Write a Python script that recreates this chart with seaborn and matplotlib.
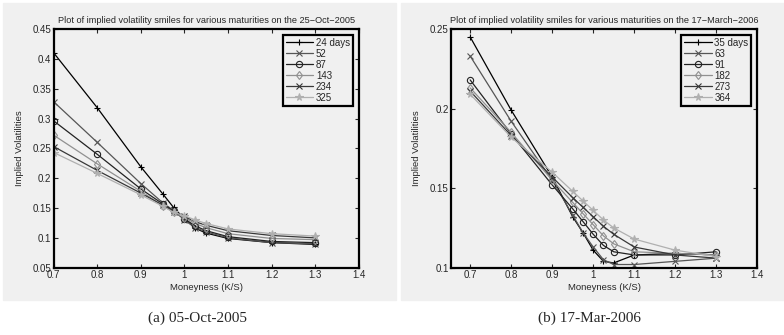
import numpy as np
import pandas as pd
import seaborn as sns
import matplotlib.pyplot as plt
from matplotlib.patches import Rectangle

# moneyness grid (same for both dates)
moneyness = [0.7, 0.8, 0.9, 0.95, 0.975, 1.0, 1.025, 1.05, 1.1, 1.2, 1.3]

# 25-Oct-2005 smiles
labels_a = ['24 days', '52', '87', '143', '234', '325']
vol_24 = [0.410, 0.318, 0.219, 0.174, 0.151, 0.132, 0.116, 0.108, 0.099, 0.092, 0.089]
vol_52 = [0.328, 0.260, 0.191, 0.159, 0.146, 0.130, 0.117, 0.110, 0.100, 0.092, 0.090]
vol_87 = [0.296, 0.240, 0.182, 0.157, 0.145, 0.132, 0.120, 0.112, 0.102, 0.094, 0.092]
vol_143 = [0.272, 0.224, 0.178, 0.154, 0.143, 0.134, 0.124, 0.117, 0.107, 0.099, 0.097]
vol_234 = [0.253, 0.213, 0.175, 0.155, 0.144, 0.136, 0.127, 0.121, 0.112, 0.104, 0.100]
vol_325 = [0.243, 0.208, 0.172, 0.153, 0.143, 0.137, 0.130, 0.124, 0.115, 0.107, 0.103]

# 17-March-2006 smiles
labels_b = ['35 days', '63', '91', '182', '273', '364']
vol_35 = [0.245, 0.199, 0.157, 0.132, 0.122, 0.111, 0.104, 0.103, 0.108, 0.109, 0.108]
vol_63 = [0.233, 0.192, 0.155, 0.133, 0.122, 0.113, 0.105, 0.102, 0.102, 0.104, 0.106]
vol_91 = [0.218, 0.184, 0.152, 0.137, 0.129, 0.121, 0.114, 0.110, 0.108, 0.108, 0.110]
vol_182 = [0.213, 0.185, 0.155, 0.141, 0.134, 0.127, 0.120, 0.115, 0.110, 0.109, 0.108]
vol_273 = [0.211, 0.183, 0.157, 0.144, 0.138, 0.132, 0.126, 0.121, 0.113, 0.108, 0.106]
vol_364 = [0.209, 0.182, 0.160, 0.148, 0.142, 0.136, 0.130, 0.125, 0.118, 0.111, 0.107]

markers = ['+', 'x', 'o', 'd', 'x', '*']
colors = ['#000000', '#555555', '#222222', '#909090', '#383838', '#b0b0b0']

sns.set_style('ticks')
plt.rcParams['font.family'] = ['Liberation Sans', 'DejaVu Sans']

bg = '#f0f0f0'
fig = plt.figure(figsize=(7.84, 3.35), dpi=100)
fig.add_artist(Rectangle((3 / 784, 1 - 300 / 335), 393 / 784, 297 / 335,
                         transform=fig.transFigure, color=bg, zorder=0))
fig.add_artist(Rectangle((401 / 784, 1 - 300 / 335), 383 / 784, 297 / 335,
                         transform=fig.transFigure, color=bg, zorder=0))


def smile_panel(ax, labels, series, title, xlim, ylim, yticks):
    frames = []
    for lab, vals in zip(labels, series):
        frames.append(pd.DataFrame({'K/S': moneyness, 'vol': vals, 'maturity': lab}))
    df = pd.concat(frames)
    for lab, mk, col in zip(labels, markers, colors):
        sub = df[df['maturity'] == lab]
        filled = mk == '*'
        sns.lineplot(data=sub, x='K/S', y='vol', ax=ax, color=col, marker=mk,
                     markersize=4.5 if mk != '*' else 5.5, linewidth=0.9,
                     markeredgecolor=col, markeredgewidth=0.8,
                     markerfacecolor=col if filled else 'none', label=lab)
    ax.set_facecolor(bg)
    ax.set_xlim(*xlim)
    ax.set_ylim(*ylim)
    ax.set_xticks([0.7, 0.8, 0.9, 1.0, 1.1, 1.2, 1.3, 1.4])
    ax.set_xticklabels(['0.7', '0.8', '0.9', '1', '1.1', '1.2', '1.3', '1.4'])
    ax.set_yticks(yticks)
    ax.set_yticklabels(['%g' % t for t in yticks])
    ax.tick_params(direction='in', top=True, right=True, length=3, width=0.8,
                   labelsize=7, pad=2)
    for sp in ax.spines.values():
        sp.set_visible(True)
        sp.set_linewidth(1.6)
        sp.set_color('black')
    ax.set_xlabel('Moneyness (K/S)', fontsize=6.8, labelpad=2)
    ax.set_ylabel('Implied Volatilities', fontsize=6.8, labelpad=6)
    ax.set_title(title, fontsize=6.6, pad=4)
    leg = ax.legend(loc='upper right', fontsize=7, frameon=True, fancybox=False,
                    framealpha=1, facecolor=bg, edgecolor='black',
                    handlelength=2.8, handletextpad=0.3, labelspacing=0.1,
                    borderpad=0.3, borderaxespad=0.6)
    leg.get_frame().set_linewidth(1.6)


ax1 = fig.add_axes([53.7 / 784, 1 - 267.7 / 335, 305 / 784, 238.7 / 335])
smile_panel(ax1, labels_a, [vol_24, vol_52, vol_87, vol_143, vol_234, vol_325],
            'Plot of implied volatility smiles for various maturities on the 25\u2212Oct\u22122005',
            (0.7, 1.4), (0.05, 0.45), [0.05, 0.1, 0.15, 0.2, 0.25, 0.3, 0.35, 0.4, 0.45])

ax2 = fig.add_axes([451.3 / 784, 1 - 267.7 / 335, 306 / 784, 238.7 / 335])
smile_panel(ax2, labels_b, [vol_35, vol_63, vol_91, vol_182, vol_273, vol_364],
            'Plot of implied volatility smiles for various maturities on the 17\u2212March\u22122006',
            (0.654, 1.4), (0.1, 0.25), [0.1, 0.15, 0.2, 0.25])

fig.text(198 / 784, 1 - 318 / 335, '(a) 05-Oct-2005', ha='center', va='center',
         fontsize=11, family=['Liberation Serif', 'DejaVu Serif'])
fig.text(590 / 784, 1 - 318 / 335, '(b) 17-Mar-2006', ha='center', va='center',
         fontsize=11, family=['Liberation Serif', 'DejaVu Serif'])

fig.savefig('out.png', dpi=100)
